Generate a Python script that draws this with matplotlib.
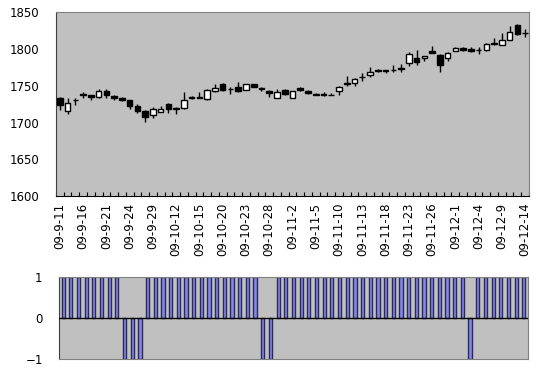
import numpy as np
import matplotlib
matplotlib.use("Agg")
import matplotlib.pyplot as plt

# trading days (only every 3rd one gets a label)
dates = ["09-9-11", "09-9-14", "09-9-15", "09-9-16", "09-9-17", "09-9-18", "09-9-21",
         "09-9-22", "09-9-23", "09-9-24", "09-9-25", "09-9-28", "09-9-29", "09-9-30",
         "09-10-9", "09-10-12", "09-10-13", "09-10-14", "09-10-15", "09-10-16", "09-10-19",
         "09-10-20", "09-10-21", "09-10-22", "09-10-23", "09-10-26", "09-10-27", "09-10-28",
         "09-10-29", "09-10-30", "09-11-2", "09-11-3", "09-11-4", "09-11-5", "09-11-6",
         "09-11-9", "09-11-10", "09-11-11", "09-11-12", "09-11-13", "09-11-16", "09-11-17",
         "09-11-18", "09-11-19", "09-11-20", "09-11-23", "09-11-24", "09-11-25", "09-11-26",
         "09-11-27", "09-11-30", "09-12-1", "09-12-2", "09-12-3", "09-12-4", "09-12-7",
         "09-12-8", "09-12-9", "09-12-10", "09-12-11", "09-12-14"]

opens = [1734, 1716, 1730, 1739, 1737, 1735, 1743, 1736, 1734, 1730,
         1722, 1716, 1710, 1714, 1725, 1720, 1720, 1735, 1734, 1732,
         1743, 1753, 1745, 1749, 1744, 1752, 1747, 1743, 1734, 1744,
         1734, 1747, 1743, 1738.5, 1738, 1737, 1743, 1753, 1754, 1762,
         1765, 1772, 1772, 1771, 1773, 1781, 1788, 1788, 1798, 1792,
         1788, 1798, 1801, 1800, 1799, 1799, 1809, 1806, 1813, 1833, 1822]
closes = [1724, 1726, 1731, 1737, 1735, 1743, 1737, 1733, 1731, 1723,
          1715, 1707, 1718, 1718, 1718, 1718, 1731, 1734, 1735, 1744,
          1747, 1744, 1745.5, 1743, 1753, 1749, 1745, 1740, 1741, 1739,
          1743, 1744, 1740, 1738, 1738.5, 1737.5, 1749, 1754, 1759, 1762.5,
          1769, 1770, 1770, 1771.5, 1774, 1794, 1783, 1791, 1795, 1778,
          1795, 1801, 1799, 1798, 1798.5, 1807, 1807, 1813, 1823, 1820, 1821.5]
highs = [1735, 1733, 1733, 1741, 1738, 1745, 1745, 1737, 1735, 1731,
         1725, 1717, 1721, 1723, 1726, 1721, 1741, 1736, 1742, 1745,
         1753, 1754, 1749, 1755, 1753, 1753, 1748, 1744, 1746, 1745,
         1743, 1748, 1744, 1740, 1742, 1740, 1750, 1764, 1760, 1767,
         1776, 1773, 1772, 1778, 1780, 1796, 1799, 1791, 1804, 1794,
         1796, 1803, 1803, 1803, 1803, 1808, 1815, 1822, 1831, 1834, 1828]
lows = [1717, 1711, 1724, 1734, 1731, 1734, 1734, 1731, 1729, 1718,
        1713, 1701, 1706, 1714, 1713, 1711, 1718, 1732, 1733, 1731,
        1742, 1743, 1739, 1742, 1744, 1748, 1743, 1735, 1733, 1738,
        1734, 1743, 1739, 1737, 1736, 1737, 1738, 1750, 1750, 1757,
        1762, 1769, 1767, 1769, 1769, 1777, 1778, 1784, 1795, 1769,
        1784, 1798, 1798, 1796, 1794, 1798, 1806, 1805, 1812, 1819, 1816]

# buy / sell signal shown in the lower panel
signal = [1, 1, 1, 1, 1, 1, 1, 1, -1, -1,
          -1, 1, 1, 1, 1, 1, 1, 1, 1, 1,
          1, 1, 1, 1, 1, 1, -1, -1, 1, 1,
          1, 1, 1, 1, 1, 1, 1, 1, 1, 1,
          1, 1, 1, 1, 1, 1, 1, 1, 1, 1,
          1, 1, 1, -1, 1, 1, 1, 1, 1, 1, 1]

plt.rcParams["font.family"] = "DejaVu Sans"
plt.rcParams["font.size"] = 8.5

fig = plt.figure(figsize=(5.42, 3.76), dpi=100)
ax = fig.add_axes([0.1033, 0.479, 0.9760 - 0.1033, 0.967 - 0.479])
ax2 = fig.add_axes([0.1094, 0.0444, 0.9736 - 0.1094, 0.2625 - 0.0444])

x = np.arange(len(dates))
o = np.array(opens, dtype=float)
c = np.array(closes, dtype=float)
up = c >= o

#candles: wick first, then body on top
ax.vlines(x, lows, highs, color="black", lw=1, zorder=2)
body_lo = np.minimum(o, c)
body_h = np.abs(c - o)
ax.bar(x, body_h, bottom=body_lo, width=0.72,
       color=np.where(up, "white", "black"), edgecolor="black", lw=1, zorder=3)

ax.set_facecolor("#c0c0c0")
ax.set_xlim(-0.5, len(dates) - 0.5)
ax.set_ylim(1600, 1850)
ax.set_yticks(np.arange(1600, 1851, 50))
ax.tick_params(axis="y", length=0, pad=12)

ax.set_xticks(x[::3])
ax.set_xticklabels(dates[::3], rotation=90)
ax.tick_params(axis="x", which="major", length=0, pad=5)
ax.set_xticks(np.arange(-0.5, len(dates), 1), minor=True)
ax.tick_params(axis="x", which="minor", direction="in", length=3, width=0.8, color="black")
for s in ["top", "right"]:
    ax.spines[s].set_color("#808080")
ax.spines["bottom"].set_color("black")
ax.spines["left"].set_color("#404040")

# lower panel
ax2.bar(x, signal, width=0.42, color="#8585f0", edgecolor="#2a2a55", lw=1, zorder=2)
ax2.axhline(0, color="black", lw=1, zorder=3)
ax2.set_facecolor("#c0c0c0")
ax2.set_xlim(-0.5, len(dates) - 0.5)
ax2.set_ylim(-1, 1)
ax2.set_yticks([-1, 0, 1])
ax2.set_yticklabels(["\u22121", "0", "1"])
ax2.tick_params(axis="y", length=0, pad=12)
ax2.set_xticks([])
for s in ax2.spines.values():
    s.set_color("#808080")
ax2.spines["left"].set_color("#404040")

fig.savefig("out.png", dpi=100)
